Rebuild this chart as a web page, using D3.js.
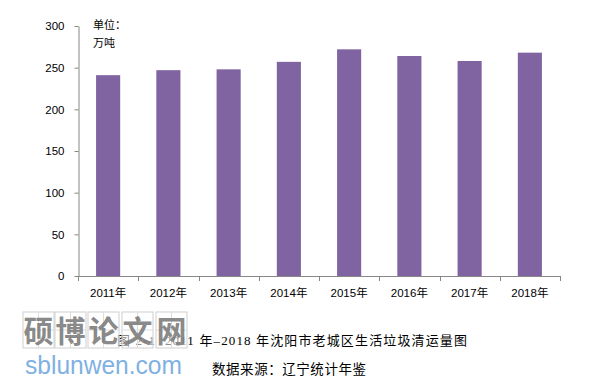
<!DOCTYPE html>
<html><head><meta charset="utf-8">
<script src="https://cdn.jsdelivr.net/npm/d3@7"></script>
<style>body{margin:0;background:#fff}svg{display:block}</style>
</head><body>
<svg id="c" width="610" height="383"></svg>
<script>
const categories = ["2011年","2012年","2013年","2014年","2015年","2016年","2017年","2018年"];
const values = [241, 247, 248, 257, 272, 264, 258, 268];
const yTicks = [0, 50, 100, 150, 200, 250, 300];
const unitLines = ["单位：", "万吨"];
const caption = "图 2-1  2011 年–2018 年沈阳市老城区生活垃圾清运量图";
const source = "数据来源：辽宁统计年鉴";
const wmChars = ["硕","博","论","文","网"];
const wmUrl = "sblunwen.com";

const svg = d3.select("#c");
const axisColor = "#868686";
const font = "'Liberation Sans', 'Noto Sans CJK SC', sans-serif";

const x = d3.scaleBand().domain(categories).range([78, 560]).paddingInner(0.6).paddingOuter(0.3);
const y = d3.scaleLinear().domain([0, 300]).range([276, 26]);

// bars
svg.append("g").selectAll("rect").data(values).join("rect")
  .attr("x", (d, i) => x(categories[i]))
  .attr("y", d => y(d))
  .attr("width", x.bandwidth())
  .attr("height", d => y(0) - y(d))
  .attr("fill", "#8064A2");

// y axis
const ya = svg.append("g").attr("transform", "translate(78.5,0)")
  .call(d3.axisLeft(y).tickValues(yTicks).tickSize(4).tickSizeOuter(0).tickPadding(10));
ya.select(".domain").attr("stroke", axisColor);
ya.selectAll(".tick line").attr("stroke", axisColor);
ya.selectAll(".tick text").attr("font-family", font).attr("font-size", "11.5px").attr("fill", "#000");

// x axis
const xg = svg.append("g");
xg.append("line").attr("x1", 78).attr("x2", 560).attr("y1", y(0) + 0.5).attr("y2", y(0) + 0.5)
  .attr("stroke", axisColor);
const step = x.step();
const bounds = categories.map(c => x(c) - step * x.paddingOuter()).concat([x(categories[categories.length - 1]) - step * x.paddingOuter() + step]);
xg.selectAll("line.t").data(bounds).join("line").attr("class", "t")
  .attr("x1", d => Math.round(d) + 0.5).attr("x2", d => Math.round(d) + 0.5)
  .attr("y1", y(0)).attr("y2", y(0) + 5).attr("stroke", axisColor);
xg.selectAll("text").data(categories).join("text")
  .attr("x", d => x(d) + x.bandwidth() / 2)
  .attr("y", 297)
  .attr("text-anchor", "middle")
  .attr("font-family", font).attr("font-size", "11.5px").attr("fill", "#000")
  .text(d => d);

// unit label
svg.selectAll("text.unit").data(unitLines).join("text").attr("class", "unit")
  .attr("x", 93).attr("y", (d, i) => 29 + i * 18)
  .attr("font-family", font).attr("font-size", "11px").attr("fill", "#000")
  .text(d => d);

// caption
svg.append("text").attr("x", 117).attr("y", 345)
  .attr("font-family", "'Liberation Serif', 'Noto Sans CJK SC', serif")
  .attr("font-size", "13px").attr("fill", "#000").attr("xml:space", "preserve")
  .style("white-space", "pre")
  .attr("textLength", 350).attr("lengthAdjust", "spacing")
  .text(caption);

svg.append("text").attr("x", 212).attr("y", 374)
  .attr("font-family", "'Noto Sans CJK SC', sans-serif")
  .attr("font-size", "13.5px").attr("fill", "#000")
  .attr("textLength", 154).attr("lengthAdjust", "spacing")
  .text(source);

// watermark
const wm = svg.append("g");
const boxX = [23, 55, 88, 122, 156];
wmChars.forEach((ch, i) => {
  const g = wm.append("g").attr("transform", `translate(${boxX[i]},312)`);
  g.append("rect").attr("width", 31).attr("height", 36).attr("fill", "#fff").attr("fill-opacity", 0.55)
    .attr("stroke", "#cfcfcf").attr("stroke-width", 1);
  g.append("line").attr("x1", 15.5).attr("x2", 15.5).attr("y1", 0).attr("y2", 36).attr("stroke", "#dcdcdc");
  g.append("line").attr("x1", 0).attr("x2", 31).attr("y1", 18).attr("y2", 18).attr("stroke", "#dcdcdc");
  g.append("text").attr("x", 15.5).attr("y", 30).attr("text-anchor", "middle")
    .attr("font-family", "'Noto Sans CJK SC', sans-serif").attr("font-weight", "bold")
    .attr("font-size", "30px").attr("fill", "#7a7a7a").attr("fill-opacity", 0.9)
    .text(ch);
});
wm.append("text").attr("x", 25).attr("y", 374)
  .attr("font-family", "'Liberation Sans', sans-serif").attr("font-size", "25px")
  .attr("fill", "#7fb1e3").attr("textLength", 157).attr("lengthAdjust", "spacingAndGlyphs")
  .text(wmUrl);
</script>
</body></html>
